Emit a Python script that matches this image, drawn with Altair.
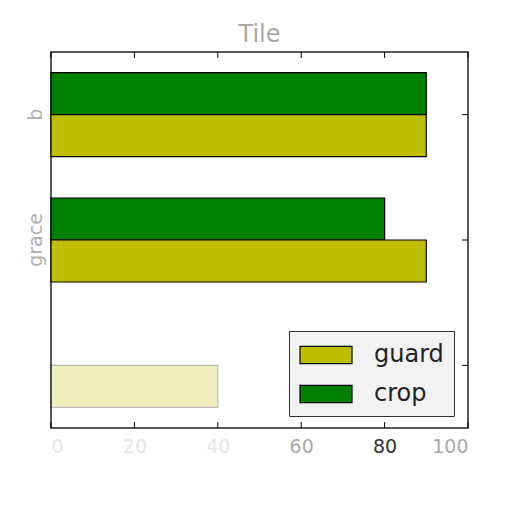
import altair as alt
import pandas as pd

categories = ["b", "grace", "c"]
guard_values = [90, 90, 40]
crop_values = [90, 80, 0]
series = ["crop", "guard"]
x_ticks = [0, 20, 40, 60, 80, 100]

rows = []
for c, g, cr in zip(categories, guard_values, crop_values):
    rows.append({"category": c, "series": "crop", "value": cr})
    rows.append({"category": c, "series": "guard", "value": g})
df = pd.DataFrame(rows)
ticks_df = pd.DataFrame({"t": x_ticks})

W, H = 417, 376
FONT = "DejaVu Sans"

xscale = alt.Scale(domain=[0, 100], nice=False, zero=True)
yscale = alt.Scale(domain=categories, paddingInner=0.33, paddingOuter=0.165)

bars = alt.Chart(df).transform_filter(alt.datum.value > 0).mark_bar(
    stroke="black", strokeWidth=1.2).encode(
    x=alt.X("value:Q", scale=xscale,
            axis=alt.Axis(values=x_ticks, title=None, grid=False, ticks=False,
                          domain=False, labelFontSize=19, labelFont=FONT, labelPadding=9,
                          labelColor={"condition": [
                              {"test": "datum.value == 80", "value": "#333333"},
                              {"test": "datum.value >= 60", "value": "#aaaaaa"}],
                              "value": "#e6e6e6"})),
    y=alt.Y("category:N", scale=yscale, sort=categories,
            axis=alt.Axis(title=None, ticks=False, domain=False, labelAngle=270,
                          labelFontSize=19, labelFont=FONT, labelColor="#b0b0b0",
                          labelPadding=6, labelBaseline="bottom", labelAlign="center",
                          labelExpr="datum.value == 'c' ? '' : datum.value")),
    yOffset=alt.YOffset("series:N", sort=series),
    color=alt.Color("series:N",
                    scale=alt.Scale(domain=["guard", "crop"], range=["#bfbf00", "#007f00"]),
                    legend=alt.Legend(title=None, orient="none", legendX=238, legendY=279,
                                      labelFontSize=24, labelFont=FONT, labelColor="#222222",
                                      symbolType="M-2,-0.66H2V0.66H-2Z", symbolSize=676,
                                      symbolOffset=13,
                                      symbolStrokeColor="black", symbolStrokeWidth=1.2,
                                      symbolOpacity=1, rowPadding=13, labelOffset=34,
                                      padding=10, strokeColor="#333333", fillColor="#f2f2f2",
                                      direction="vertical")),
    opacity=alt.condition(alt.datum.category == "c", alt.value(0.25), alt.value(1)),
)

top_ticks = alt.Chart(ticks_df).mark_rule(color="black", strokeWidth=1).encode(
    x=alt.X("t:Q", scale=xscale), y=alt.value(0), y2=alt.value(6))
bottom_ticks = alt.Chart(ticks_df).mark_rule(color="black", strokeWidth=1).encode(
    x=alt.X("t:Q", scale=xscale), y=alt.value(H), y2=alt.value(H - 6))

cat_df = pd.DataFrame({"category": categories})
right_ticks = alt.Chart(cat_df).mark_rule(color="black", strokeWidth=1).encode(
    y=alt.Y("category:N", scale=yscale, sort=categories), x=alt.value(W), x2=alt.value(W - 6))

chart = alt.layer(bars, top_ticks, bottom_ticks, right_ticks).properties(
    width=W, height=H,
    title=alt.TitleParams("Tile", fontSize=24, font=FONT, color="#a8a8a8",
                          fontWeight="normal", offset=5),
    autosize=alt.AutoSizeParams(type="none"),
    padding={"left": 43, "top": 44, "right": 30, "bottom": 60},
).configure(background="white").configure_view(stroke="#222222", strokeWidth=1.5)

chart.save("out.html", embed_options={"renderer": "svg", "actions": False})
